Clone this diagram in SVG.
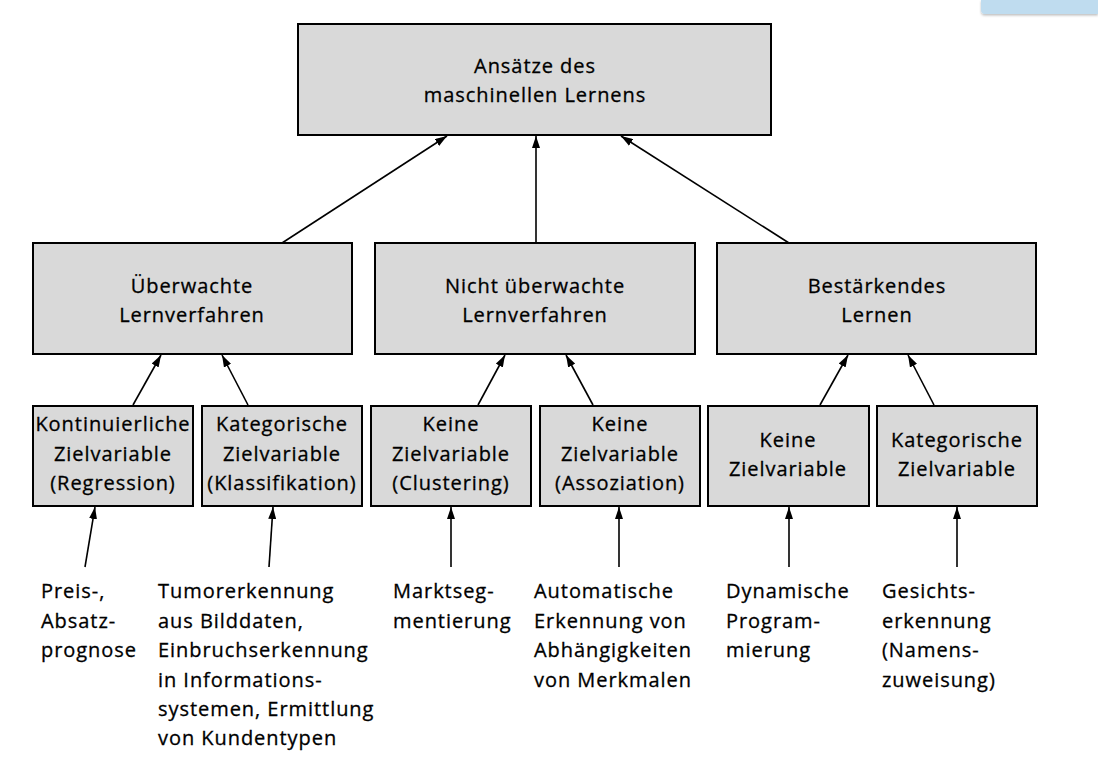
<svg xmlns="http://www.w3.org/2000/svg" width="1098" height="768" viewBox="0 0 1098 768">
  <defs>
    <marker id="ah" viewBox="0 0 12 8" refX="12" refY="4" markerWidth="12" markerHeight="8" markerUnits="userSpaceOnUse" orient="auto">
      <path d="M0,0 L12,4 L0,8 Z" fill="#000"/>
    </marker>
    <filter id="sh" x="-10%" y="-50%" width="130%" height="250%">
      <feDropShadow dx="0" dy="1.5" stdDeviation="1.2" flood-color="#000" flood-opacity="0.25"/>
    </filter>
  </defs>
  <style>
    .box { fill: #d9d9d9; stroke: #000; stroke-width: 2; }
    text { font-family: "Open Sans", "Noto Sans", sans-serif; font-size: 20px; letter-spacing: 0.95px; fill: #000; stroke: #000; stroke-width: 0.3; }
    .c { text-anchor: middle; }
    .conn line { stroke: #000; stroke-width: 1.6; marker-end: url(#ah); }
  </style>
  <rect width="1098" height="768" fill="#fff"/>
  <!-- tab in the upper right corner -->
  <path d="M981,0 H1098 V14 H985 Q981,14 981,10 Z" fill="#bfdcef" filter="url(#sh)"/>

  <g id="root">
    <rect class="box" x="298" y="24" width="473" height="111"/>
    <text class="c" x="535" y="73">Ansätze des</text>
    <text class="c" x="535" y="102">maschinellen Lernens</text>
  </g>

  <g id="supervised">
    <rect class="box" x="33" y="243" width="319" height="111"/>
    <text class="c" x="192" y="293">Überwachte</text>
    <text class="c" x="192" y="322">Lernverfahren</text>
  </g>
  <g id="unsupervised">
    <rect class="box" x="375" y="243" width="320" height="111"/>
    <text class="c" x="535" y="293">Nicht überwachte</text>
    <text class="c" x="535" y="322">Lernverfahren</text>
  </g>
  <g id="reinforcement">
    <rect class="box" x="717" y="243" width="319" height="111"/>
    <text class="c" x="877" y="293">Bestärkendes</text>
    <text class="c" x="877" y="322">Lernen</text>
  </g>

  <g id="regression">
    <rect class="box" x="33" y="406" width="160" height="100"/>
    <text class="c" x="113" y="431">Kontinuierliche</text>
    <text class="c" x="113" y="461">Zielvariable</text>
    <text class="c" x="113" y="490">(Regression)</text>
  </g>
  <g id="classification">
    <rect class="box" x="202" y="406" width="160" height="100"/>
    <text class="c" x="282" y="431">Kategorische</text>
    <text class="c" x="282" y="461">Zielvariable</text>
    <text class="c" x="282" y="490">(Klassifikation)</text>
  </g>
  <g id="clustering">
    <rect class="box" x="371" y="406" width="160" height="100"/>
    <text class="c" x="451" y="431">Keine</text>
    <text class="c" x="451" y="461">Zielvariable</text>
    <text class="c" x="451" y="490">(Clustering)</text>
  </g>
  <g id="association">
    <rect class="box" x="540" y="406" width="160" height="100"/>
    <text class="c" x="620" y="431">Keine</text>
    <text class="c" x="620" y="461">Zielvariable</text>
    <text class="c" x="620" y="490">(Assoziation)</text>
  </g>
  <g id="no-target">
    <rect class="box" x="708" y="406" width="161" height="100"/>
    <text class="c" x="788" y="447">Keine</text>
    <text class="c" x="788" y="476">Zielvariable</text>
  </g>
  <g id="categorical-target">
    <rect class="box" x="877" y="406" width="160" height="100"/>
    <text class="c" x="957" y="447">Kategorische</text>
    <text class="c" x="957" y="476">Zielvariable</text>
  </g>

  <g id="ex-price">
    <text x="41" y="598">Preis-,</text>
    <text x="41" y="628">Absatz-</text>
    <text x="41" y="657">prognose</text>
  </g>
  <g id="ex-tumor">
    <text x="158" y="598">Tumorerkennung</text>
    <text x="158" y="628">aus Bilddaten,</text>
    <text x="158" y="657">Einbruchserkennung</text>
    <text x="158" y="687">in Informations-</text>
    <text x="158" y="716">systemen, Ermittlung</text>
    <text x="158" y="745">von Kundentypen</text>
  </g>
  <g id="ex-market">
    <text x="393" y="598">Marktseg-</text>
    <text x="393" y="628">mentierung</text>
  </g>
  <g id="ex-dependency">
    <text x="534" y="598">Automatische</text>
    <text x="534" y="628">Erkennung von</text>
    <text x="534" y="657">Abhängigkeiten</text>
    <text x="534" y="687">von Merkmalen</text>
  </g>
  <g id="ex-dynamic">
    <text x="726" y="598">Dynamische</text>
    <text x="726" y="628">Program-</text>
    <text x="726" y="657">mierung</text>
  </g>
  <g id="ex-face">
    <text x="882" y="598">Gesichts-</text>
    <text x="882" y="628">erkennung</text>
    <text x="882" y="657">(Namens-</text>
    <text x="882" y="687">zuweisung)</text>
  </g>

  <g id="connectors" class="conn">
    <line x1="282" y1="243" x2="447" y2="136"/>
    <line x1="536" y1="243" x2="536" y2="136"/>
    <line x1="789" y1="243" x2="621" y2="136"/>

    <line x1="133" y1="405" x2="161" y2="355"/>
    <line x1="248" y1="405" x2="222" y2="355"/>
    <line x1="478" y1="405" x2="505" y2="355"/>
    <line x1="593" y1="405" x2="566" y2="355"/>
    <line x1="820" y1="405" x2="848" y2="355"/>
    <line x1="934" y1="405" x2="908" y2="355"/>

    <line x1="85" y1="567" x2="95" y2="507"/>
    <line x1="269" y1="567" x2="273" y2="507"/>
    <line x1="451" y1="567" x2="451" y2="507"/>
    <line x1="619" y1="567" x2="619" y2="507"/>
    <line x1="789" y1="567" x2="789" y2="507"/>
    <line x1="957" y1="567" x2="957" y2="507"/>
  </g>
</svg>
